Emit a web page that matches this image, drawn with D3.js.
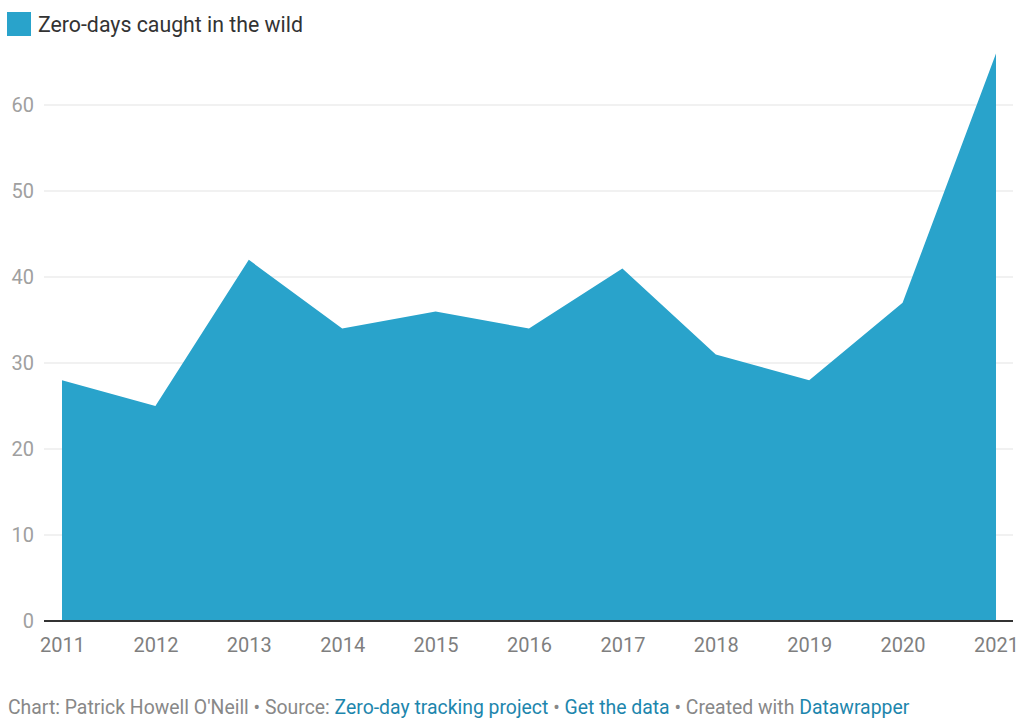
<!DOCTYPE html>
<html><head><meta charset="utf-8">
<script src="https://cdn.jsdelivr.net/npm/d3@7"></script>
<style>
body{margin:0;background:#fff;font-family:Roboto,"Noto Sans",sans-serif;}
svg{display:block;}
</style></head>
<body>
<svg id="c" width="1024" height="725"></svg>
<script>
const years = [2011,2012,2013,2014,2015,2016,2017,2018,2019,2020,2021];
const zeroDays = [28,25,42,34,36,34,41,31,28,37,66];
const yTicks = [0,10,20,30,40,50,60];
const seriesName = "Zero-days caught in the wild";

const svg = d3.select("#c");
const x = d3.scaleLinear().domain([2011,2021]).range([62,996]);
const y = d3.scaleLinear().domain([0,60]).range([621,105]);
const color = "#29a3cb";

// gridlines
svg.append("g").selectAll("line").data(yTicks.filter(d=>d>0)).join("line")
  .attr("x1",44).attr("x2",1013)
  .attr("y1",d=>y(d)).attr("y2",d=>y(d))
  .attr("stroke","#e3e3e3").attr("stroke-width",1);

// y labels
svg.append("g").selectAll("text").data(yTicks).join("text")
  .attr("x",34).attr("y",d=>y(d)+7)
  .attr("text-anchor","end")
  .attr("font-size",20).attr("fill","#a0a0a0")
  .text(d=>d);

// area
const area = d3.area().x((d,i)=>x(years[i])).y0(y(0)).y1(d=>y(d));
svg.append("path").datum(zeroDays).attr("d",area).attr("fill",color);

// baseline
svg.append("line").attr("x1",44).attr("x2",1013).attr("y1",y(0)).attr("y2",y(0))
  .attr("stroke","#333").attr("stroke-width",2);

// x labels
const xAxis = d3.axisBottom(x).tickValues(years).tickFormat(d3.format("d")).tickSize(0).tickPadding(0);
const gx = svg.append("g").attr("transform",`translate(0,${y(0)})`).call(xAxis);
gx.select(".domain").remove();
gx.selectAll("text").attr("y",31).attr("dy",0).attr("font-size",20).attr("fill","#7f7f7f").attr("font-family","Roboto,sans-serif");

// legend
svg.append("rect").attr("x",7).attr("y",12).attr("width",24).attr("height",24).attr("fill",color);
svg.append("text").attr("x",38).attr("y",32).attr("font-size",21.3).attr("fill","#333")
  .text(seriesName);

// footer
const foot = svg.append("text").attr("x",8).attr("y",714).attr("font-size",19.4).attr("fill","#888");
const parts = [["Chart: Patrick Howell O'Neill • Source: ","#888"],["Zero-day tracking project","#1d86ad"],[" • ","#888"],["Get the data","#1d86ad"],[" • Created with ","#888"],["Datawrapper","#1d86ad"]];
parts.forEach(p=>foot.append("tspan").attr("fill",p[1]).text(p[0]));
</script>
</body></html>
